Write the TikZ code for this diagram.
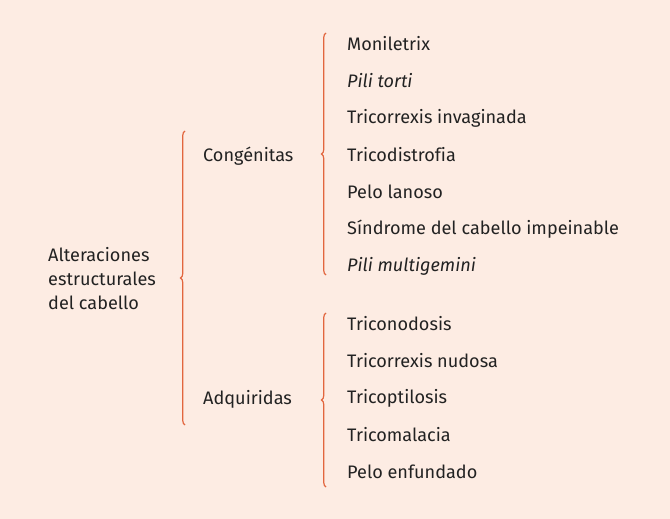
\documentclass[tikz,border=0pt]{standalone}
\usepackage{fontspec}
\setmainfont{Fira Sans}[Ligatures=NoCommon]
\usetikzlibrary{decorations.pathreplacing}
\definecolor{fondo}{HTML}{FDECE3}
\definecolor{llave}{HTML}{E2663E}
\definecolor{texto}{HTML}{222222}
\tikzset{
  item/.style={anchor=west,inner sep=0pt,text=texto,font=\fontsize{18.1}{22}\selectfont},
  llavero/.style={draw=llave,line width=1.2pt,decoration={brace,amplitude=4.5pt}}
}
\begin{document}
\begin{tikzpicture}[x=1pt,y=-1pt]
  \fill[fondo] (0,0) rectangle (670,519);
  \useasboundingbox (0,0) rectangle (670,519);
  % tronco
  \node[item,align=left,font=\fontsize{18.1}{24}\selectfont] (alt) at (48,279)
    {Alteraciones\\estructurales\\del cabello};
  \coordinate (b1top) at (185,131);
  \coordinate (b1bot) at (185,425);
  \draw[llavero,decorate] (b1bot) -- (b1top);
  % ramas
  \node[item] (cong) at (203,156) {Congénitas};
  \node[item] (adq) at (203,399) {Adquiridas};
  \coordinate (b2top) at (326,33);
  \coordinate (b2bot) at (326,275);
  \draw[llavero,decorate] (b2bot) -- (b2top);
  \coordinate (b3top) at (326,313);
  \coordinate (b3bot) at (326,487);
  \draw[llavero,decorate] (b3bot) -- (b3top);
  % hojas
  \node[item] (c1) at (347,44) {Moniletrix};
  \node[item] (c2) at (347,81) {\itshape Pili torti};
  \node[item] (c3) at (347,118) {Tricorrexis invaginada};
  \node[item] (c4) at (347,155) {Tricodistrofia};
  \node[item] (c5) at (347,192) {Pelo lanoso};
  \node[item] (c6) at (347,229) {Síndrome del cabello impeinable};
  \node[item] (c7) at (347,266) {\itshape Pili multigemini};
  \node[item] (a1) at (347,324) {Triconodosis};
  \node[item] (a2) at (347,361) {Tricorrexis nudosa};
  \node[item] (a3) at (347,398) {Tricoptilosis};
  \node[item] (a4) at (347,435) {Tricomalacia};
  \node[item] (a5) at (347,472) {Pelo enfundado};
\end{tikzpicture}
\end{document}
